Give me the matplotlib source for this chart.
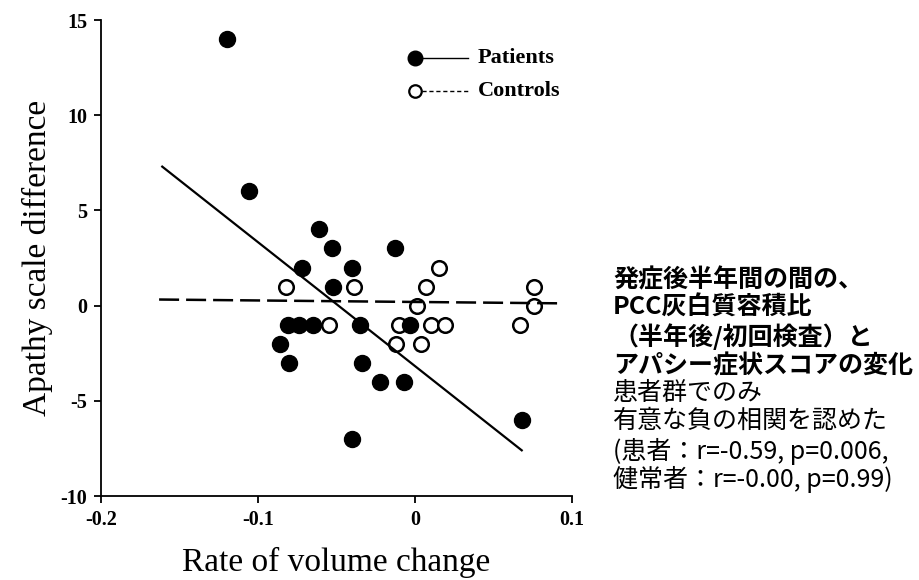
import matplotlib
matplotlib.use('Agg')
import matplotlib.pyplot as plt
from matplotlib.lines import Line2D

plt.rcParams['axes.unicode_minus'] = False

# patients (filled) and controls (open)
pat_x = [-0.120, -0.106, -0.061, -0.053, -0.013, -0.072, -0.040, -0.052, -0.081, -0.074,
         -0.065, -0.035, -0.003, -0.086, -0.080, -0.034, -0.022, -0.007, 0.068, -0.040]
pat_y = [14, 6, 4, 3, 3, 2, 2, 1, -1, -1, -1, -1, -1, -2, -3, -3, -4, -4, -6, -7]

ctl_x = [0.015, -0.082, -0.039, 0.007, 0.076, 0.001, 0.076, -0.055, -0.010, 0.010,
         0.019, 0.067, -0.012, 0.004]
ctl_y = [2, 1, 1, 1, 1, 0, 0, -1, -1, -1, -1, -1, -2, -2]

# regression lines as drawn
pat_fit_x = [-0.161, 0.068]
pat_fit_y = [7.3, -7.6]
ctl_fit_x = [-0.163, 0.092]
ctl_fit_y = [0.32, 0.12]

xticks = [-0.2, -0.1, 0, 0.1]
xtick_labels = ['-0.2', '-0.1', '0', '0.1']
yticks = [-10, -5, 0, 5, 10, 15]
ytick_labels = ['-10', '-5', '0', '5', '10', '15']

note_bold = ['発症後半年間の間の、', 'PCC灰白質容積比', '（半年後/初回検査）と', 'アパシー症状スコアの変化']
note_plain = ['患者群でのみ', '有意な負の相関を認めた', '(患者：r=-0.59, p=0.006,', '健常者：r=-0.00, p=0.99)']

serif = 'Liberation Serif'
jp = ['Noto Sans CJK JP', 'DejaVu Sans']

fig = plt.figure(figsize=(9.2, 5.8), dpi=100)
ax = fig.add_axes([0.1098, 0.1448, 0.5119, 0.8207])

ax.plot(ctl_x, ctl_y, 'o', ms=10.5, mfc='white', mec='black', mew=1.8, zorder=2)
ax.plot(pat_x, pat_y, 'o', ms=11.5, mfc='black', mec='black', zorder=3)
ax.plot(pat_fit_x, pat_fit_y, '-', color='black', lw=1.6, zorder=4)
ax.plot(ctl_fit_x, ctl_fit_y, color='black', lw=1.8, dashes=(8, 2.8), zorder=4, clip_on=False)

ax.set_xlim(-0.2, 0.1)
ax.set_ylim(-10, 15)
ax.set_xticks(xticks, labels=xtick_labels, fontfamily=serif, fontweight='bold', fontsize=14.5)
ax.set_yticks(yticks, labels=ytick_labels, fontfamily=serif, fontweight='bold', fontsize=14.5)
ax.tick_params(direction='out', length=5, width=1.3, pad=5)
ax.spines['top'].set_visible(False)
ax.spines['right'].set_visible(False)
ax.spines['left'].set_linewidth(1.3)
ax.spines['bottom'].set_linewidth(1.3)

ax.set_xlabel('Rate of volume change', fontfamily=serif, fontsize=24)
ax.xaxis.set_label_coords(0.5, -0.108)
ax.set_ylabel('Apathy scale difference', fontfamily=serif, fontsize=24)
ax.yaxis.set_label_coords(-0.102, 0.5)

# legend drawn by hand: marker at the left end of the line
tr = ax.transAxes
ax.add_line(Line2D([0.667, 0.779], [0.920, 0.920], transform=tr, color='black', lw=1.0))
ax.add_line(Line2D([0.667], [0.920], transform=tr, marker='o', ms=10.5, mfc='black', mec='black'))
ax.add_line(Line2D([0.667, 0.779], [0.851, 0.851], transform=tr, color='black', lw=1.0, dashes=(3, 2)))
ax.add_line(Line2D([0.667], [0.851], transform=tr, marker='o', ms=9, mfc='white', mec='black', mew=1.6))
ax.text(0.800, 0.920, 'Patients', transform=tr, fontfamily=serif, fontweight='bold',
        fontsize=16, va='center', ha='left')
ax.text(0.800, 0.851, 'Controls', transform=tr, fontfamily=serif, fontweight='bold',
        fontsize=16, va='center', ha='left')

# Japanese note on the right
line_y = [280, 308, 337, 366, 393, 421, 451, 479]
for i, txt in enumerate(note_bold + note_plain):
    fig.text(613 / 920, 1 - line_y[i] / 580, txt, family=jp, fontsize=18,
             fontweight='bold' if i < 4 else 'normal', va='center', ha='left')

fig.savefig('out.png', dpi=100)
